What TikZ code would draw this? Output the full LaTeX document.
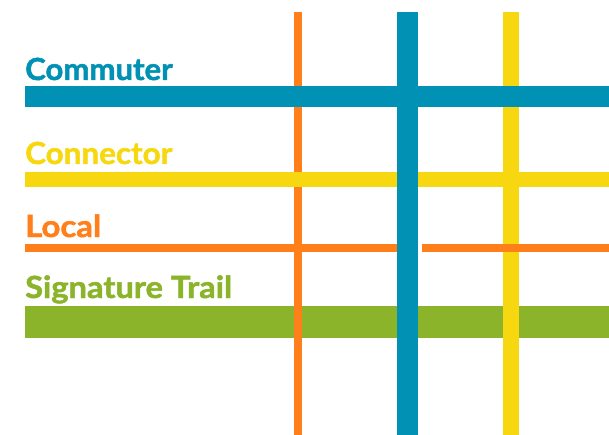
\documentclass[tikz,border=0pt]{standalone}
\usepackage{fontspec}
\setmainfont{Lato}[BoldFeatures={FakeBold=1.6}]
\definecolor{cblue}{RGB}{0,145,180}
\definecolor{cyellow}{RGB}{247,216,16}
\definecolor{corange}{RGB}{255,127,26}
\definecolor{cgreen}{RGB}{139,180,42}
\tikzset{
  label text/.style={anchor=base west, inner sep=0pt, font=\fontsize{30.5}{36}\selectfont\bfseries},
  band/.style={fill=#1, draw=none}
}
\begin{document}
\begin{tikzpicture}[x=1pt,y=-1pt]
\useasboundingbox (0,0) rectangle (609,435);
% green band
\fill[band=cgreen] (25,306) rectangle (609,338);
% orange vertical
\fill[band=corange] (294,12) rectangle (302,435);
% yellow vertical
\fill[band=cyellow] (503,12) rectangle (519,435);
% yellow horizontal
\fill[band=cyellow] (25,172) rectangle (609,187);
% orange horizontal with gap
\fill[band=corange] (25,244) rectangle (397,252);
\fill[band=corange] (422,244) rectangle (609,252);
% blue horizontal
\fill[band=cblue] (25,86) rectangle (609,107);
% blue vertical
\fill[band=cblue] (397,12) rectangle (418,435);
% labels
\node[label text, text=cblue] (commuter) at (25,80) {\scalebox{1.02}[1]{Commuter}};
\node[label text, text=cyellow] (connector) at (25,164) {\scalebox{1.03}[1]{Connector}};
\node[label text, text=corange] (local) at (25,237) {\scalebox{1.08}[1]{Local}};
\node[label text, text=cgreen] (signature) at (25,298) {\scalebox{1.07}[1]{Signature Trail}};
\end{tikzpicture}
\end{document}
